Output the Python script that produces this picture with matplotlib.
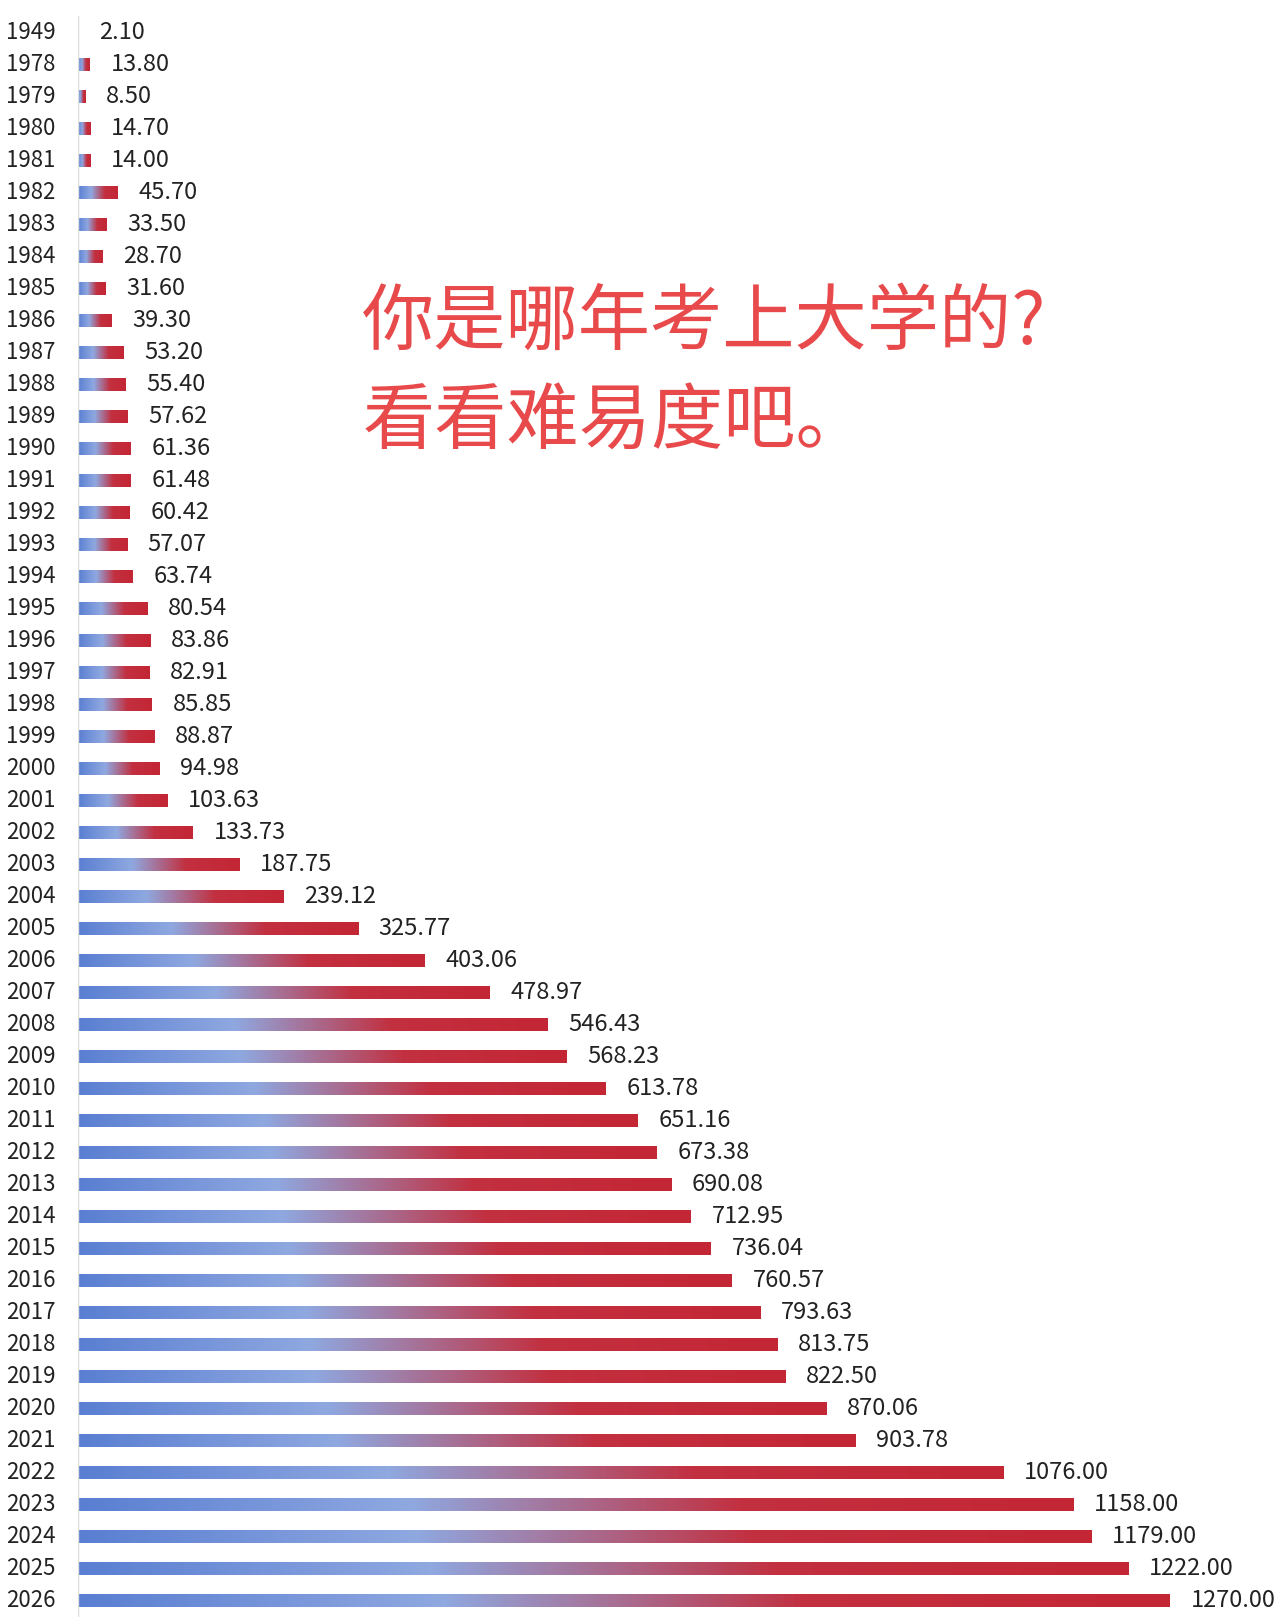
import matplotlib.pyplot as plt
import numpy as np
from matplotlib.colors import LinearSegmentedColormap

plt.rcParams['font.family'] = ['Noto Sans CJK SC', 'DejaVu Sans']

years = ['1949'] + [str(y) for y in range(1978, 2027)]
values = [2.10, 13.80, 8.50, 14.70, 14.00, 45.70, 33.50, 28.70, 31.60, 39.30,
          53.20, 55.40, 57.62, 61.36, 61.48, 60.42, 57.07, 63.74, 80.54, 83.86,
          82.91, 85.85, 88.87, 94.98, 103.63, 133.73, 187.75, 239.12, 325.77, 403.06,
          478.97, 546.43, 568.23, 613.78, 651.16, 673.38, 690.08, 712.95, 736.04, 760.57,
          793.63, 813.75, 822.50, 870.06, 903.78, 1076.00, 1158.00, 1179.00, 1222.00, 1270.00]

cmap = LinearSegmentedColormap.from_list('br', ['#5a7fd2', '#8fa8e0', '#c23040', '#c42634'])
grad = np.linspace(0, 1, 256).reshape(1, -1)

fig = plt.figure(figsize=(12.8, 16.17), dpi=100)
ax = fig.add_axes([0.061, 0.0, 0.939, 0.99])
n = len(years)
ax.set_ylim(n - 0.5, -0.5)
ax.set_xlim(0, 1398)

for i, (yr, v) in enumerate(zip(years, values)):
    w = v if v > 5 else 0
    if w > 0:
        ax.imshow(grad, cmap=cmap, aspect='auto', extent=[0, w, i + 0.2, i - 0.2],
                  interpolation='bilinear')
    ax.text(w + 24, i, f'{v:.2f}', va='center', ha='left', fontsize=17, color='#222222')
    ax.text(-0.056 * 1398 / 0.939, i, yr, va='center', ha='left', fontsize=16, color='#222222')

ax.axvline(0, color='#dddddd', lw=1)
for s in ax.spines.values():
    s.set_visible(False)
ax.set_xticks([])
ax.set_yticks([])

fig.text(0.283, 0.80, '你是哪年考上大学的?', fontsize=52, color='#e84a4c', va='center',
         fontweight='medium')
fig.text(0.283, 0.739, '看看难易度吧。', fontsize=52, color='#e84a4c', va='center',
         fontweight='medium')

fig.savefig('out.png', dpi=100)
